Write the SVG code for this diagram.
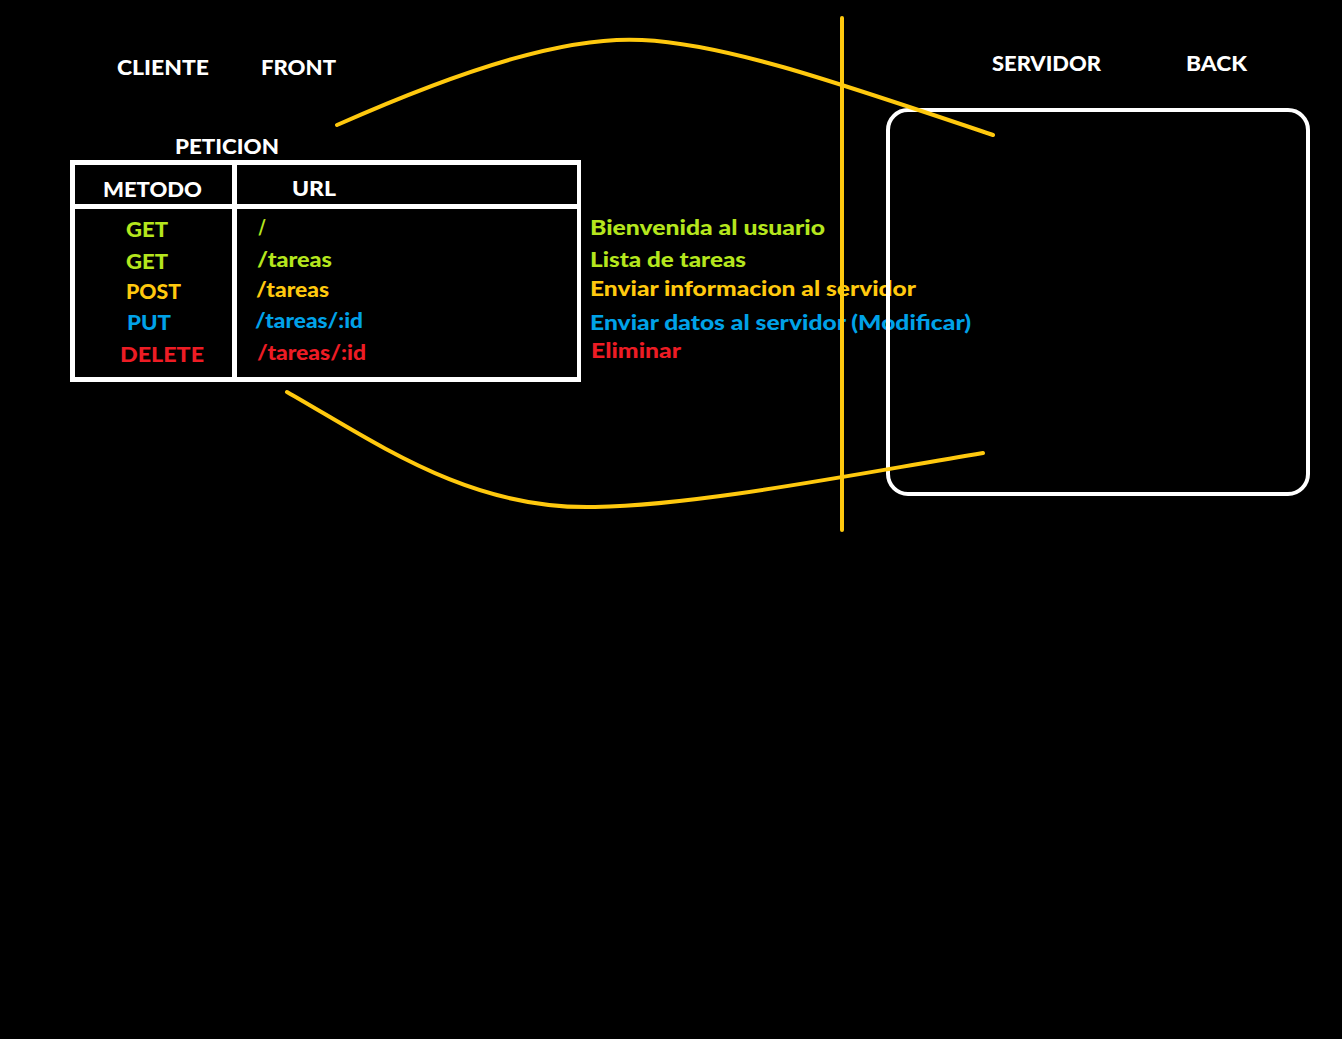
<svg xmlns="http://www.w3.org/2000/svg" width="1342" height="1039" viewBox="0 0 1342 1039">
<style>
text{font-family:Lato,"Open Sans","DejaVu Sans",sans-serif;font-weight:900;font-size:21px}
.w{fill:#ffffff}.g{fill:#b5e61d}.y{fill:#ffc90e}.b{fill:#00a2e8}.r{fill:#ed1c24}
.cell{fill:#000000}
.conn{fill:none;stroke:#ffc90e;stroke-width:4;stroke-linecap:round}
</style>
<rect width="1342" height="1039" fill="#000000"/>
<g id="titles">
<text class="w" x="117" y="75" textLength="92" lengthAdjust="spacingAndGlyphs">CLIENTE</text>
<text class="w" x="261" y="75" textLength="75" lengthAdjust="spacingAndGlyphs">FRONT</text>
<text class="w" x="992" y="71" textLength="109" lengthAdjust="spacingAndGlyphs">SERVIDOR</text>
<text class="w" x="1186" y="71" textLength="61" lengthAdjust="spacingAndGlyphs">BACK</text>
</g>
<g id="peticion-table">
<text class="w" x="175" y="154" textLength="104" lengthAdjust="spacingAndGlyphs">PETICION</text>
<rect x="70" y="160" width="511" height="222" fill="#ffffff"/>
<rect class="cell" x="75" y="165" width="157" height="39"/>
<rect class="cell" x="237" y="165" width="340" height="39"/>
<rect class="cell" x="75" y="209" width="157" height="168"/>
<rect class="cell" x="237" y="209" width="340" height="168"/>
<text class="w" x="103" y="197" textLength="99" lengthAdjust="spacingAndGlyphs">METODO</text>
<text class="w" x="292" y="196" textLength="44" lengthAdjust="spacingAndGlyphs">URL</text>
<text class="g" x="126" y="237" textLength="42" lengthAdjust="spacingAndGlyphs">GET</text>
<text class="g" x="126" y="269" textLength="42" lengthAdjust="spacingAndGlyphs">GET</text>
<text class="y" x="126" y="299" textLength="55" lengthAdjust="spacingAndGlyphs">POST</text>
<text class="b" x="127" y="330" textLength="44" lengthAdjust="spacingAndGlyphs">PUT</text>
<text class="r" x="120" y="362" textLength="84" lengthAdjust="spacingAndGlyphs">DELETE</text>
<text class="g" x="258" y="235" textLength="8" lengthAdjust="spacingAndGlyphs">/</text>
<text class="g" x="257" y="267" textLength="75" lengthAdjust="spacingAndGlyphs">/tareas</text>
<text class="y" x="256" y="297" textLength="73" lengthAdjust="spacingAndGlyphs">/tareas</text>
<text class="b" x="255" y="328" textLength="108" lengthAdjust="spacingAndGlyphs">/tareas/:id</text>
<text class="r" x="257" y="360" textLength="109" lengthAdjust="spacingAndGlyphs">/tareas/:id</text>
</g>
<g id="descripciones">
<text class="g" x="590" y="235" textLength="235" lengthAdjust="spacingAndGlyphs">Bienvenida al usuario</text>
<text class="g" x="590" y="267" textLength="156" lengthAdjust="spacingAndGlyphs">Lista de tareas</text>
<text class="y" x="590" y="296" textLength="326" lengthAdjust="spacingAndGlyphs">Enviar informacion al servidor</text>
<text class="b" x="590" y="330" textLength="381" lengthAdjust="spacingAndGlyphs">Enviar datos al servidor (Modificar)</text>
<text class="r" x="591" y="358" textLength="90" lengthAdjust="spacingAndGlyphs">Eliminar</text>
</g>
<g id="servidor-box">
<rect x="888" y="110" width="420" height="384" rx="20" ry="20" fill="none" stroke="#ffffff" stroke-width="4"/>
</g>
<g id="connectors">
<line class="conn" x1="842" y1="18" x2="842" y2="530"/>
<path class="conn" d="M337,125 C470,66 570,36 642,40 C725,44 830,80 993,135"/>
<path class="conn" d="M287,392 C380,445 470,510 595,507 C700,505 850,475 983,453"/>
</g>
</svg>
